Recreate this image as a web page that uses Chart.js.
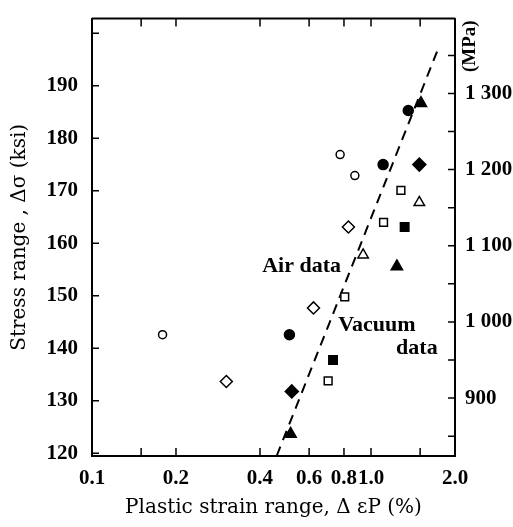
<!DOCTYPE html>
<html>
<head>
<meta charset="utf-8">
<script src="https://cdn.jsdelivr.net/npm/chart.js@4"></script>
<style>
body { margin: 0; background: #fff; }
</style>
</head>
<body>
<canvas id="myChart" width="513" height="527"></canvas>
<script>
// axis ranges and ticks
const xMin = 0.1, xMax = 2.0;
const yMin = 119.5, yMax = 202.8;
const KSI_TO_MPA = 6.895;
const xTicks = [0.1, 0.15, 0.2, 0.4, 0.6, 0.8, 1.0, 1.5, 2.0];
const xLabels = ['0.1', '', '0.2', '0.4', '0.6', '0.8', '1.0', '', '2.0'];
const yTicks = [120, 130, 140, 150, 160, 170, 180, 190, 200];
const mpaTicks = [850, 900, 950, 1000, 1050, 1100, 1150, 1200, 1250, 1300, 1350];

// plastic strain range (%) / stress range (ksi)
const openCircleX = [0.179, 0.775, 0.875];
const openCircleY = [142.6, 176.9, 172.9];
const filledCircleX = [0.51, 1.105, 1.36];
const filledCircleY = [142.6, 175.0, 185.3];
const openDiamondX = [0.303, 0.622, 0.83];
const openDiamondY = [133.7, 147.7, 163.1];
const filledDiamondX = [0.52, 1.49];
const filledDiamondY = [131.8, 175.0];
const openSquareX = [0.702, 0.805, 1.109, 1.28];
const openSquareY = [133.8, 149.8, 164.0, 170.1];
const filledSquareX = [0.731, 1.32];
const filledSquareY = [137.8, 163.1];
const openTriangleX = [0.937, 1.49];
const openTriangleY = [157.8, 167.8];
const filledTriangleX = [0.515, 1.238, 1.51];
const filledTriangleY = [123.7, 155.6, 186.7];
// dashed trend line end points
const fitX = [0.459, 1.733];
const fitY = [119.5, 196.8];

const TICK_FONT = 'Liberation Serif';
const TITLE_FONT = 'DejaVu Serif';

function pts(xs, ys) {
    return xs.map((x, i) => ({ x: x, y: ys[i] }));
}

function marker(data, style, r, filled) {
    return {
        data: data,
        pointStyle: style,
        pointRadius: r,
        pointHoverRadius: r,
        backgroundColor: filled ? '#000' : '#fff',
        borderColor: '#000',
        borderWidth: 1.5
    };
}

// inward tick marks, top border and text labels
const decorPlugin = {
    id: 'decor',
    afterDraw(chart) {
        const c = chart.ctx;
        const a = chart.chartArea;
        const x = chart.scales.x, y = chart.scales.y, y2 = chart.scales.y2;
        c.save();
        c.strokeStyle = '#000';
        c.lineWidth = 1.5;
        c.beginPath();
        xTicks.forEach(v => {
            const px = x.getPixelForValue(v);
            c.moveTo(px, a.bottom); c.lineTo(px, a.bottom - 8);
            c.moveTo(px, a.top); c.lineTo(px, a.top + 8);
        });
        yTicks.forEach(v => {
            const py = y.getPixelForValue(v);
            c.moveTo(a.left, py); c.lineTo(a.left + 7, py);
        });
        mpaTicks.forEach(v => {
            const py = y2.getPixelForValue(v);
            c.moveTo(a.right, py); c.lineTo(a.right - 7, py);
        });
        c.stroke();
        c.lineWidth = 2;
        c.beginPath();
        c.moveTo(a.left, a.top); c.lineTo(a.right, a.top);
        c.stroke();

        c.fillStyle = '#000';
        c.font = 'bold 22px "' + TICK_FONT + '"';
        c.textAlign = 'center';
        c.textBaseline = 'middle';
        c.fillText('Air data', x.getPixelForValue(0.564), y.getPixelForValue(155.6));
        c.fillText('Vacuum', x.getPixelForValue(1.05), y.getPixelForValue(144.4));
        c.fillText('data', x.getPixelForValue(1.46), y.getPixelForValue(140.1));

        c.font = 'bold 19px "' + TICK_FONT + '"';
        c.translate(a.right + 15, y2.getPixelForValue(1362));
        c.rotate(-Math.PI / 2);
        c.fillText('(MPa)', 0, 0);
        c.restore();
    }
};

const tickFont = { family: TICK_FONT, size: 21, weight: 'bold' };
const titleFont = { family: TITLE_FONT, size: 20 };

const ctx = document.getElementById('myChart');
const myChart = new Chart(ctx, {
    type: 'scatter',
    data: {
        datasets: [
            marker(pts(openCircleX, openCircleY), 'circle', 4, false),
            marker(pts(filledCircleX, filledCircleY), 'circle', 5, true),
            marker(pts(openDiamondX, openDiamondY), 'rectRot', 6, false),
            marker(pts(filledDiamondX, filledDiamondY), 'rectRot', 6.5, true),
            marker(pts(openSquareX, openSquareY), 'rect', 5.5, false),
            marker(pts(filledSquareX, filledSquareY), 'rect', 6, true),
            marker(pts(openTriangleX, openTriangleY), 'triangle', 6, false),
            marker(pts(filledTriangleX, filledTriangleY), 'triangle', 6.5, true),
            {
                data: pts(fitX, fitY),
                showLine: true,
                borderColor: '#000',
                borderWidth: 2,
                borderDash: [10, 7],
                pointRadius: 0,
                pointHoverRadius: 0,
                order: 10
            }
        ]
    },
    options: {
        responsive: false,
        animation: false,
        events: [],
        layout: { padding: { top: 10, left: 0, right: 0, bottom: 0 } },
        plugins: {
            legend: { display: false },
            tooltip: { enabled: false }
        },
        scales: {
            x: {
                type: 'logarithmic',
                min: xMin,
                max: xMax,
                afterBuildTicks: s => { s.ticks = xTicks.map(v => ({ value: v })); },
                afterFit: s => { s.height = 71; },
                grid: { display: false },
                border: { display: true, color: '#000', width: 2 },
                ticks: {
                    autoSkip: false,
                    maxRotation: 0,
                    minRotation: 0,
                    padding: 2,
                    color: '#000',
                    font: tickFont,
                    callback: (v, i) => xLabels[i]
                },
                title: {
                    display: true,
                    text: 'Plastic strain range, Δ εP (%)',
                    color: '#000',
                    font: titleFont,
                    padding: { top: 0, bottom: 7 }
                }
            },
            y: {
                type: 'linear',
                position: 'left',
                min: yMin,
                max: yMax,
                afterBuildTicks: s => { s.ticks = yTicks.map(v => ({ value: v })); },
                afterFit: s => { s.width = 92; },
                grid: { display: false },
                border: { display: true, color: '#000', width: 2 },
                ticks: {
                    padding: 6,
                    color: '#000',
                    font: tickFont,
                    callback: v => v < 195 ? String(v) : ''
                },
                title: {
                    display: true,
                    text: 'Stress range , Δσ (ksi)',
                    color: '#000',
                    font: titleFont,
                    padding: { top: 8, bottom: 0 }
                }
            },
            y2: {
                type: 'linear',
                position: 'right',
                min: yMin * KSI_TO_MPA,
                max: yMax * KSI_TO_MPA,
                afterBuildTicks: s => { s.ticks = mpaTicks.map(v => ({ value: v })); },
                afterFit: s => { s.width = 58; },
                grid: { display: false },
                border: { display: true, color: '#000', width: 2 },
                ticks: {
                    padding: 2,
                    color: '#000',
                    font: tickFont,
                    callback: v => {
                        if (v % 100 !== 0) return '';
                        return v >= 1000 ? '1 ' + String(v).slice(1) : String(v);
                    }
                }
            }
        }
    },
    plugins: [decorPlugin]
});
</script>
</body>
</html>
